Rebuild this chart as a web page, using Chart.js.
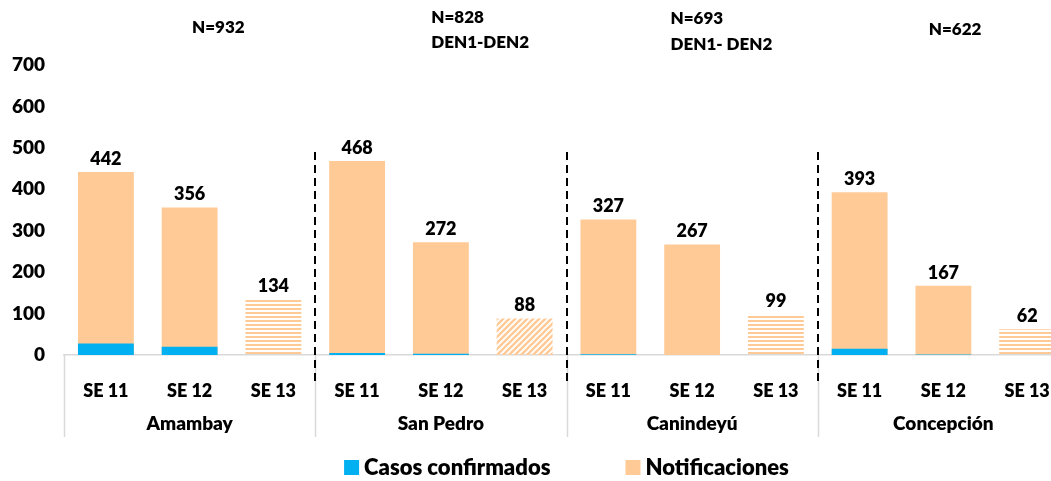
<!DOCTYPE html>
<html lang="es">
  <head>
    <meta charset="UTF-8" />
    <title>Notificaciones por departamento</title>
    <script src="https://cdn.jsdelivr.net/npm/chart.js"></script>
    <style>
      body {
        margin: 0;
        background: #ffffff;
        overflow: hidden;
      }
      #wrap {
        width: 1075px;
        height: 481px;
      }
    </style>
  </head>
  <body>
    <div id="wrap"><canvas id="myChart"></canvas></div>
    <script>
      const regions = ["Amambay", "San Pedro", "Canindeyú", "Concepción"];
      const weeks = ["SE 11", "SE 12", "SE 13"];
      const notificaciones = [442, 356, 134, 468, 272, 88, 327, 267, 99, 393, 167, 62];
      const confirmados = [28, 20, 0, 5, 3, 0, 2, 0, 0, 15, 1, 0];
      const groupNotes = [["N=932"], ["N=828", "DEN1-DEN2"], ["N=693", "DEN1- DEN2"], ["N=622"]];

      const PEACH = "#FFCA96";
      const BLUE = "#00B0F0";
      const FONT = "Lato";
      const W = "800";

      // note positions (offset from the group's left edge, y in px)
      const noteX = [128, 116, 104, 111];
      const noteY = [[28], [18, 43], [19, 45], [30]];

      function stripePattern() {
        const c = document.createElement("canvas");
        c.width = 4;
        c.height = 4;
        const g = c.getContext("2d");
        g.fillStyle = PEACH;
        g.fillRect(0, 0, 4, 2);
        return g.createPattern(c, "repeat");
      }

      function diagonalPattern() {
        const c = document.createElement("canvas");
        c.width = 6;
        c.height = 6;
        const g = c.getContext("2d");
        g.strokeStyle = PEACH;
        g.lineWidth = 2.4;
        g.beginPath();
        g.moveTo(0, 6); g.lineTo(6, 0);
        g.moveTo(-1, 1); g.lineTo(1, -1);
        g.moveTo(5, 7); g.lineTo(7, 5);
        g.stroke();
        return g.createPattern(c, "repeat");
      }

      const stripes = stripePattern();
      const diagonal = diagonalPattern();

      const labels = regions.flatMap(() => weeks);

      const decorations = {
        id: "decorations",
        afterDraw(chart) {
          const { ctx, chartArea, scales } = chart;
          const x = scales.x;
          const step = (chartArea.right - chartArea.left) / regions.length;
          ctx.save();

          // gray category dividers under the axis
          ctx.strokeStyle = "#d9d9d9";
          ctx.lineWidth = 1.5;
          for (let i = 0; i <= regions.length; i++) {
            const px = Math.round(chartArea.left + i * step) + 0.5;
            ctx.beginPath();
            ctx.moveTo(px, chartArea.bottom);
            ctx.lineTo(px, chartArea.bottom + 82);
            ctx.stroke();
          }

          // dashed black separators
          ctx.strokeStyle = "#000000";
          ctx.lineWidth = 2;
          ctx.setLineDash([8, 5]);
          for (let i = 1; i < regions.length; i++) {
            const px = Math.round(chartArea.left + i * step);
            ctx.beginPath();
            ctx.moveTo(px, 152);
            ctx.lineTo(px, 383);
            ctx.stroke();
          }
          ctx.setLineDash([]);

          // region names
          ctx.fillStyle = "#000000";
          ctx.textAlign = "center";
          ctx.textBaseline = "middle";
          ctx.font = W + " 19px " + FONT;
          regions.forEach((r, i) => {
            const cx = (x.getPixelForValue(i * 3) + x.getPixelForValue(i * 3 + 2)) / 2;
            ctx.fillText(r, cx, 424);
          });

          // N notes
          ctx.textAlign = "left";
          ctx.font = W + " 17px " + FONT;
          groupNotes.forEach((lines, i) => {
            const left = chartArea.left + i * step + noteX[i];
            lines.forEach((t, j) => ctx.fillText(t, left, noteY[i][j]));
          });

          // value labels on notificaciones
          ctx.textAlign = "center";
          ctx.font = W + " 18px " + FONT;
          chart.getDatasetMeta(1).data.forEach((bar, i) => {
            ctx.fillText(String(notificaciones[i]), bar.x, bar.y - 13);
          });

          // legend
          ctx.font = W + " 22px " + FONT;
          const items = chart.data.datasets.map((d) => ({ text: d.label, color: d.legendColor }));
          const box = 15, gap = 5, spacing = 75;
          const widths = items.map((it) => box + gap + ctx.measureText(it.text).width);
          const total = widths.reduce((a, b) => a + b, 0) + spacing * (items.length - 1);
          let lx = (chartArea.left + chartArea.right) / 2 - total / 2;
          ctx.textAlign = "left";
          items.forEach((it, i) => {
            ctx.fillStyle = it.color;
            ctx.fillRect(lx, 460, box, 15);
            ctx.fillStyle = "#000000";
            ctx.fillText(it.text, lx + box + gap, 468);
            lx += widths[i] + spacing;
          });

          ctx.restore();
        },
      };

      const ctx = document.getElementById("myChart").getContext("2d");
      new Chart(ctx, {
        type: "bar",
        data: {
          labels: labels,
          datasets: [
            {
              label: "Casos confirmados",
              data: confirmados,
              backgroundColor: BLUE,
              legendColor: BLUE,
              grouped: false,
              barPercentage: 0.667,
              categoryPercentage: 1,
            },
            {
              label: "Notificaciones",
              data: notificaciones,
              backgroundColor: (c) => {
                const i = c.dataIndex;
                if (i % 3 !== 2) return PEACH;
                return regions[Math.floor(i / 3)] === "San Pedro" ? diagonal : stripes;
              },
              legendColor: PEACH,
              grouped: false,
              barPercentage: 0.667,
              categoryPercentage: 1,
            },
          ],
        },
        options: {
          responsive: true,
          maintainAspectRatio: false,
          animation: false,
          layout: { padding: { top: 65, right: 5, left: 0, bottom: 0 } },
          plugins: {
            legend: { display: false },
            tooltip: { enabled: false },
          },
          scales: {
            x: {
              grid: { display: false, drawTicks: false },
              border: { display: true, color: "#d9d9d9", width: 1.5 },
              ticks: {
                color: "#000000",
                font: { family: FONT, size: 18, weight: W },
                padding: 25,
                maxRotation: 0,
                autoSkip: false,
              },
              afterFit: (s) => { s.height = 126; },
            },
            y: {
              min: 0,
              max: 700,
              grid: { display: false, drawTicks: false },
              border: { display: false },
              ticks: {
                stepSize: 100,
                color: "#000000",
                font: { family: FONT, size: 19, weight: W },
                padding: 19,
              },
              afterFit: (s) => { s.width = 64; },
            },
          },
        },
        plugins: [decorations],
      });
    </script>
  </body>
</html>
